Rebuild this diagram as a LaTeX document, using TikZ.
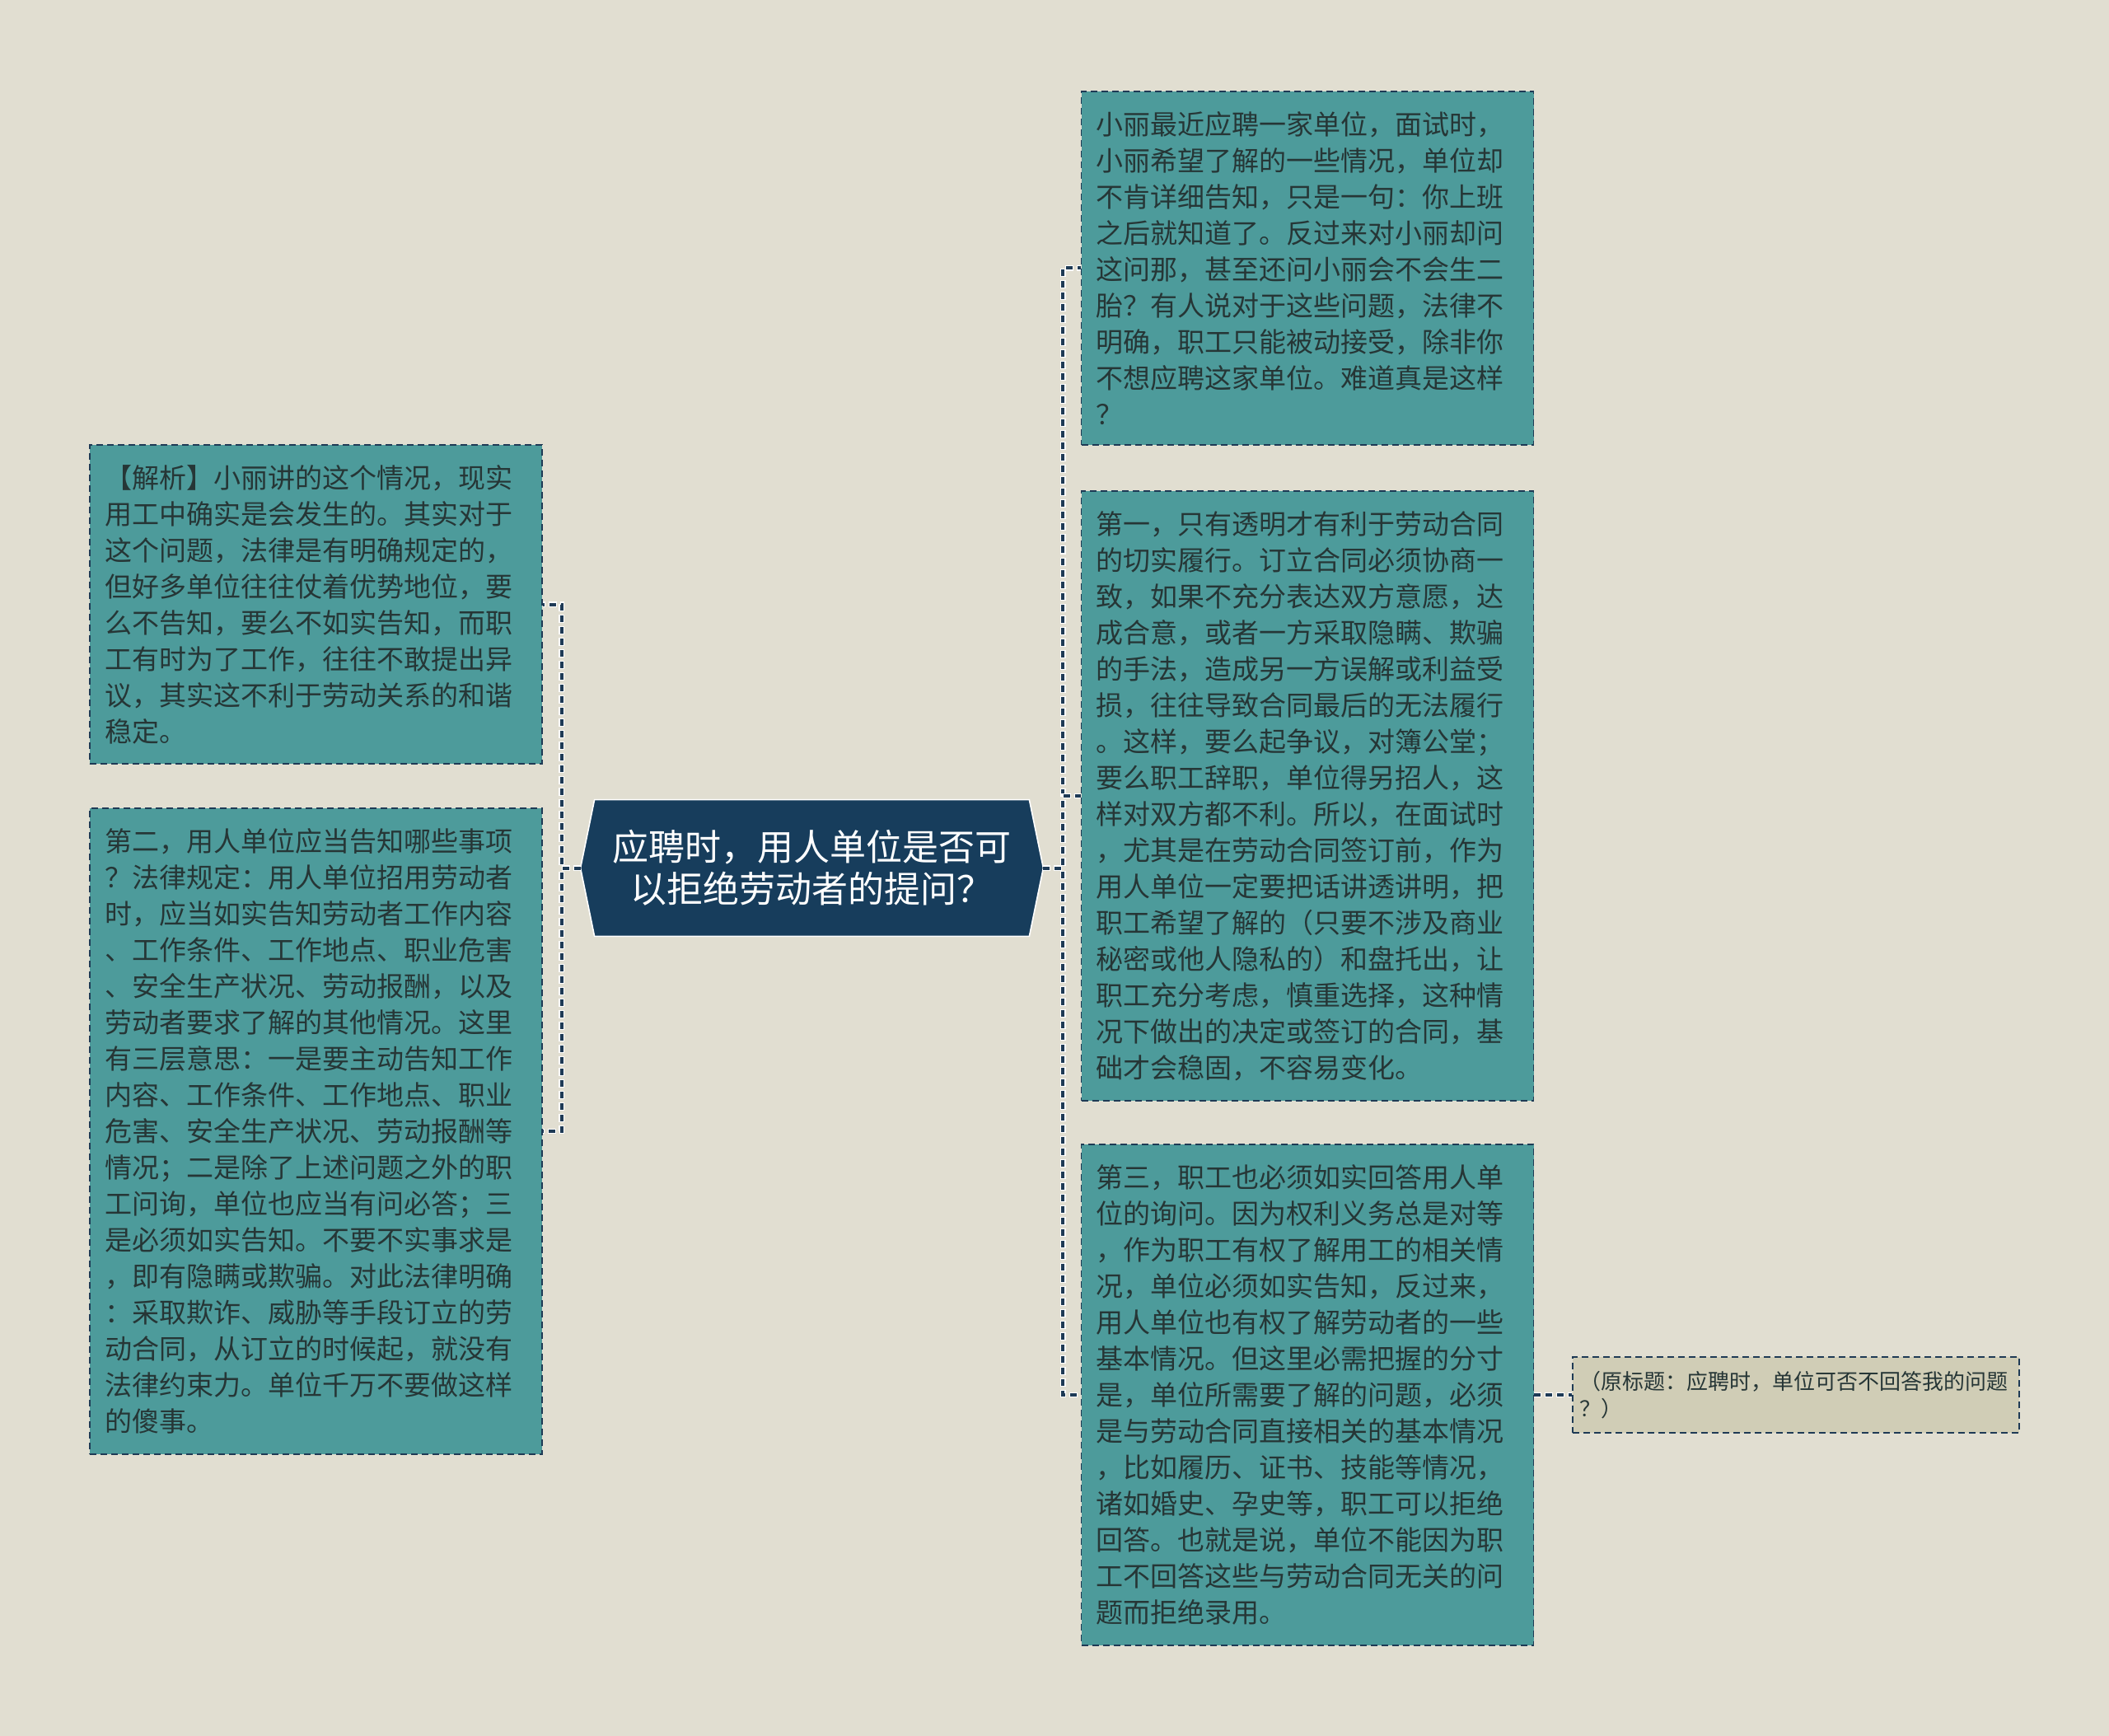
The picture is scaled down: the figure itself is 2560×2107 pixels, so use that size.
\documentclass[tikz,border=0pt]{standalone}
\usepackage{fontspec}
\setmainfont{Noto Sans CJK SC}
\usepackage{tikz}
\usetikzlibrary{backgrounds}

\definecolor{fondo}{HTML}{E1DED1}
\definecolor{verde}{HTML}{4D9B9B}
\definecolor{marino}{HTML}{173D5C}
\definecolor{borde}{HTML}{1E3A55}
\definecolor{texto}{HTML}{263636}
\definecolor{nota}{HTML}{D0CDB6}

\begin{document}
\begin{tikzpicture}[x=0.5pt, y=-0.5pt,
  caja/.style={draw=borde, fill=verde, line width=0.8pt, dash pattern=on 4pt off 2.5pt,
    text=texto, align=left, text width=256.5pt, inner xsep=9pt, inner ysep=0pt,
    font=\fontsize{16.5pt}{22pt}\selectfont},
  enlace/.style={draw=borde, line width=2pt, dash pattern=on 4pt off 3pt,
    preaction={draw=white, line width=3.2pt, dash pattern=on 5pt off 2pt, dash phase=0.5pt}}]

  % Fondo de la pagina
  \begin{scope}[on background layer]
    \fill[fondo] (0,0) rectangle (2560,2107);
  \end{scope}

  % Tema central
  \node[text=white, align=center, minimum width=280.5pt, minimum height=82.5pt, inner sep=0pt,
    font=\fontsize{22pt}{25.5pt}\selectfont] (hub) at (985.5,1053.5)
    {应聘时，用人单位是否可\\以拒绝劳动者的提问？};
  \begin{scope}[on background layer]
    \fill[marino, draw=white, line width=0.8pt] (hub.west) -- ([xshift=8.5pt]hub.north west)
      -- ([xshift=-8.5pt]hub.north east) -- (hub.east) -- ([xshift=-8.5pt]hub.south east)
      -- ([xshift=8.5pt]hub.south west) -- cycle;
  \end{scope}

  % Ramas de la izquierda
  \node[caja, minimum height=193.5pt] (ana) at (383.5,733.5)
    {【解析】小丽讲的这个情况，现实\\用工中确实是会发生的。其实对于\\这个问题，法律是有明确规定的，\\但好多单位往往仗着优势地位，要\\么不告知，要么不如实告知，而职\\工有时为了工作，往往不敢提出异\\议，其实这不利于劳动关系的和谐\\稳定。};
  \node[caja, minimum height=392pt] (second) at (383.5,1373)
    {第二，用人单位应当告知哪些事项\\？法律规定：用人单位招用劳动者\\时，应当如实告知劳动者工作内容\\、工作条件、工作地点、职业危害\\、安全生产状况、劳动报酬，以及\\劳动者要求了解的其他情况。这里\\有三层意思：一是要主动告知工作\\内容、工作条件、工作地点、职业\\危害、安全生产状况、劳动报酬等\\情况；二是除了上述问题之外的职\\工问询，单位也应当有问必答；三\\是必须如实告知。不要不实事求是\\，即有隐瞒或欺骗。对此法律明确\\：采取欺诈、威胁等手段订立的劳\\动合同，从订立的时候起，就没有\\法律约束力。单位千万不要做这样\\的傻事。};

  % Ramas de la derecha
  \node[caja, minimum height=214.5pt] (case) at (1587,325.5)
    {小丽最近应聘一家单位，面试时，\\小丽希望了解的一些情况，单位却\\不肯详细告知，只是一句：你上班\\之后就知道了。反过来对小丽却问\\这问那，甚至还问小丽会不会生二\\胎？有人说对于这些问题，法律不\\明确，职工只能被动接受，除非你\\不想应聘这家单位。难道真是这样\\？};
  \node[caja, minimum height=370pt] (first) at (1587,966)
    {第一，只有透明才有利于劳动合同\\的切实履行。订立合同必须协商一\\致，如果不充分表达双方意愿，达\\成合意，或者一方采取隐瞒、欺骗\\的手法，造成另一方误解或利益受\\损，往往导致合同最后的无法履行\\。这样，要么起争议，对簿公堂；\\要么职工辞职，单位得另招人，这\\样对双方都不利。所以，在面试时\\，尤其是在劳动合同签订前，作为\\用人单位一定要把话讲透讲明，把\\职工希望了解的（只要不涉及商业\\秘密或他人隐私的）和盘托出，让\\职工充分考虑，慎重选择，这种情\\况下做出的决定或签订的合同，基\\础才会稳固，不容易变化。};
  \node[caja, minimum height=304pt] (third) at (1587,1693)
    {第三，职工也必须如实回答用人单\\位的询问。因为权利义务总是对等\\，作为职工有权了解用工的相关情\\况，单位必须如实告知，反过来，\\用人单位也有权了解劳动者的一些\\基本情况。但这里必需把握的分寸\\是，单位所需要了解的问题，必须\\是与劳动合同直接相关的基本情况\\，比如履历、证书、技能等情况，\\诸如婚史、孕史等，职工可以拒绝\\回答。也就是说，单位不能因为职\\工不回答这些与劳动合同无关的问\\题而拒绝录用。};

  % Nota final
  \node[caja, fill=nota, text=texto, text width=263pt, inner xsep=4pt, minimum height=46pt,
    font=\fontsize{13pt}{16.5pt}\selectfont] (note) at (2180,1693)
    {（原标题：应聘时，单位可否不回答我的问题\\？）};

  % Conectores
  \draw[enlace] (hub.west) -- ++(-23,0) |- (ana.east);
  \draw[enlace] (hub.west) -- ++(-23,0) |- (second.east);
  \draw[enlace] (hub.east) -- ++(24,0) |- (case.west);
  \draw[enlace] (hub.east) -- ++(24,0) |- (first.west);
  \draw[enlace] (hub.east) -- ++(24,0) |- (third.west);
  \draw[enlace] (third.east) -- (note.west);
\end{tikzpicture}
\end{document}
